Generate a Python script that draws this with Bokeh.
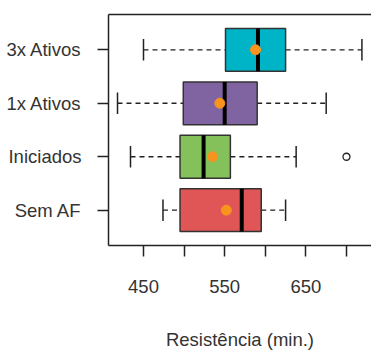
from bokeh.plotting import figure
from bokeh.models import ColumnDataSource, FixedTicker, Range1d, LinearAxis
from bokeh.embed import file_html
from bokeh.resources import INLINE

categories = ["Sem AF", "Iniciados", "1x Ativos", "3x Ativos"]
positions = [1, 2, 3, 4]
lower = [474, 434, 418, 450]
q1 = [495, 495, 499, 551]
median = [571, 524, 550, 591]
q3 = [595, 557, 590, 625]
upper = [625, 638, 675, 719]
means = [552, 535, 544, 588]
colors = ["#E05555", "#84C15B", "#8064A2", "#00B4C8"]
outlier_x = [700]
outlier_pos = [2]
x_ticks = [450, 500, 550, 600, 650, 700]
x_labels = {450: "450", 500: "", 550: "550", 600: "", 650: "650", 700: ""}

BOX_H = 0.8
CAP_H = 0.4

src = ColumnDataSource(dict(
    y=positions, lower=lower, q1=q1, med=median, q3=q3, upper=upper,
    mean=means, color=colors,
    y0=[v - BOX_H / 2 for v in positions], y1=[v + BOX_H / 2 for v in positions],
    c0=[v - CAP_H / 2 for v in positions], c1=[v + CAP_H / 2 for v in positions],
))

p = figure(width=371, height=352, output_backend="svg", toolbar_location=None,
           x_range=Range1d(406.9, 730.8), y_range=Range1d(0.34, 4.66),
           min_border_left=108, min_border_right=0, min_border_top=14, min_border_bottom=106)
p.grid.visible = False
p.outline_line_color = None
p.background_fill_color = "white"
p.border_fill_color = "white"

xa = p.below[0]
ya = p.left[0]

# top border line of the box (right side is cut off in the reference)
top = LinearAxis(ticker=FixedTicker(ticks=[]), major_label_text_font_size="0px",
                 major_tick_out=0, major_tick_in=0, minor_tick_line_color=None,
                 major_label_standoff=0, axis_line_color="#222222", axis_line_width=1.5)
p.add_layout(top, "above")

# whiskers
p.segment(x0="lower", x1="q1", y0="y", y1="y", source=src, line_color="#222222",
          line_dash="5 4", line_width=1.3)
p.segment(x0="q3", x1="upper", y0="y", y1="y", source=src, line_color="#222222",
          line_dash="5 4", line_width=1.3)
# caps
p.segment(x0="lower", x1="lower", y0="c0", y1="c1", source=src, line_color="#222222", line_width=1.5)
p.segment(x0="upper", x1="upper", y0="c0", y1="c1", source=src, line_color="#222222", line_width=1.5)
# boxes
p.hbar(y="y", left="q1", right="q3", height=BOX_H, source=src, fill_color="color",
       line_color="#333333", line_width=1.5)
# medians
p.segment(x0="med", x1="med", y0="y0", y1="y1", source=src, line_color="black", line_width=4)
# means
p.scatter(x="mean", y="y", source=src, size=10, marker="circle", fill_color="#F7941D",
          line_color="#F7941D")
# outliers
p.scatter(x=outlier_x, y=outlier_pos, size=7, marker="circle", fill_color=None,
          line_color="#222222", line_width=1.3)

font = "Liberation Sans"
tc = "#333333"

xa.ticker = FixedTicker(ticks=x_ticks)
xa.major_label_overrides = x_labels
xa.axis_line_color = "#222222"
xa.axis_line_width = 1.5
xa.major_tick_line_color = "#222222"
xa.major_tick_line_width = 1.5
xa.major_tick_out = 11
xa.major_tick_in = 0
xa.minor_tick_line_color = None
xa.major_label_standoff = 23
xa.major_label_text_font = font
xa.major_label_text_font_size = "18.5px"
xa.major_label_text_color = tc
xa.axis_label = "Resistência (min.)"
xa.axis_label_text_font = font
xa.axis_label_text_font_size = "18.5px"
xa.axis_label_text_font_style = "normal"
xa.axis_label_text_color = tc
xa.axis_label_standoff = 33

ya.ticker = FixedTicker(ticks=positions)
ya.major_label_overrides = {pos: c for pos, c in zip(positions, categories)}
ya.axis_line_color = "#222222"
ya.axis_line_width = 1.5
ya.major_tick_line_color = "#222222"
ya.major_tick_line_width = 1.5
ya.major_tick_out = 11
ya.major_tick_in = 0
ya.minor_tick_line_color = None
ya.major_label_standoff = 16
ya.major_label_text_font = font
ya.major_label_text_font_size = "18.5px"
ya.major_label_text_color = tc

open("out.html", "w").write(file_html(p, INLINE))
